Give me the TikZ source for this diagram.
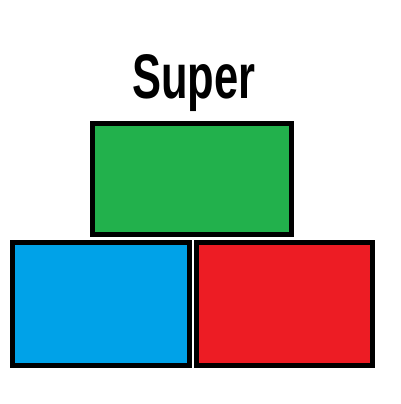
\documentclass[tikz,border=0pt]{standalone}
\usepackage{fontspec}
\setmainfont{Liberation Sans}
\definecolor{cgreen}{HTML}{22B14C}
\definecolor{cblue}{HTML}{00A2E8}
\definecolor{cred}{HTML}{ED1C24}
\begin{document}
\begin{tikzpicture}[x=1pt,y=-1pt,
  boxstyle/.style={draw=black,line width=5pt}]
\useasboundingbox (0,0) rectangle (400,404);
\fill[white] (0,0) rectangle (400,404);
\node[anchor=base,inner sep=0pt] (title) at (194,98) {\scalebox{0.69}[1]{\fontsize{63}{63}\selectfont\bfseries Super}};
\filldraw[boxstyle,fill=cgreen] (92.5,123.5) rectangle (291.2,234.2);
\filldraw[boxstyle,fill=cblue] (12.5,242.5) rectangle (189.5,365.2);
\filldraw[boxstyle,fill=cred] (196.5,242.5) rectangle (372.5,365.2);
\end{tikzpicture}
\end{document}
